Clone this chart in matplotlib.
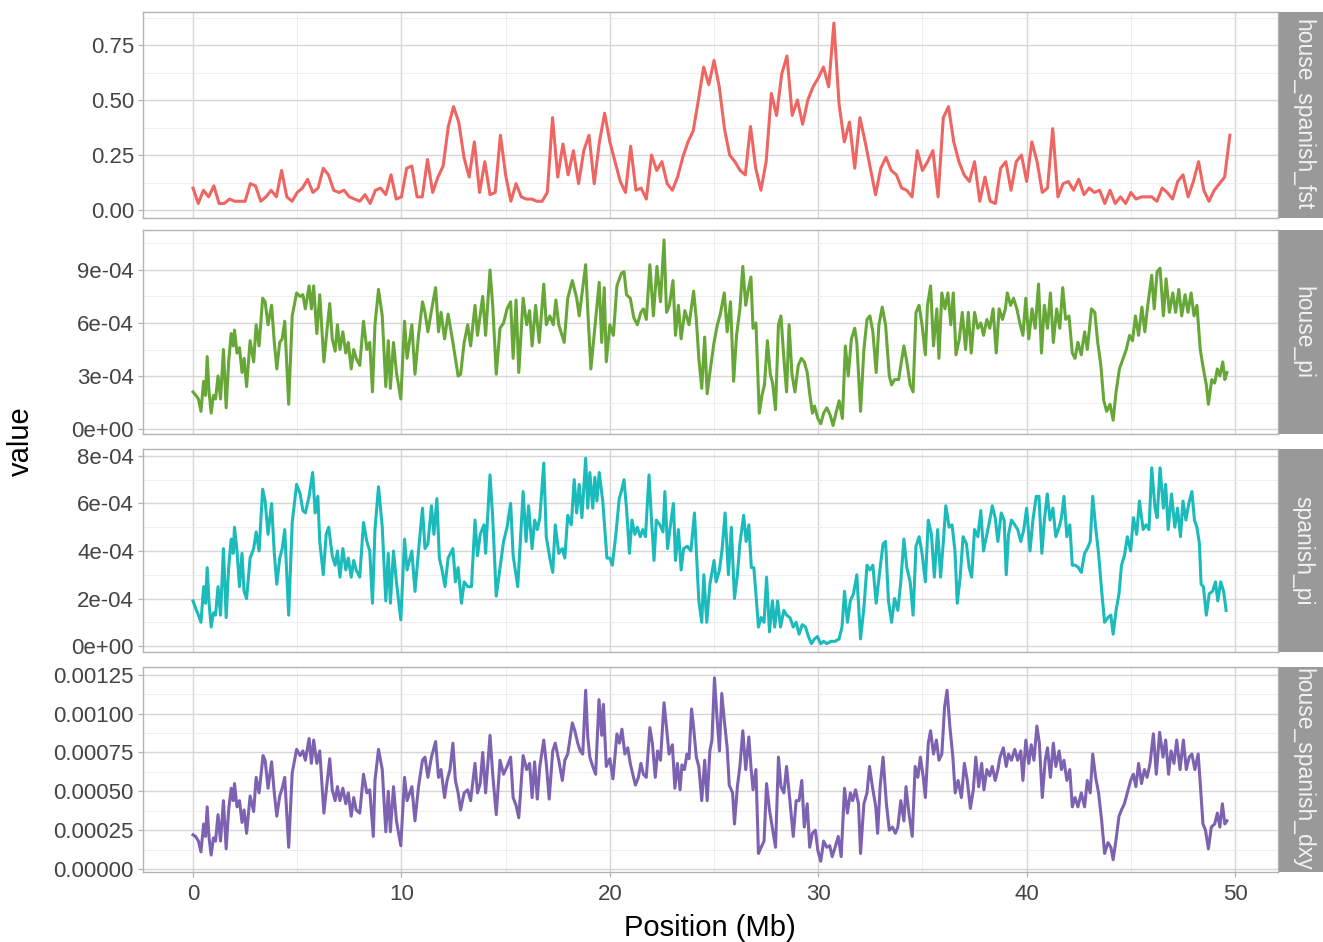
import numpy as np
import matplotlib.pyplot as plt

plt.rcParams["font.family"] = ["Liberation Sans", "DejaVu Sans"]

# --- window positions (Mb) and statistics per facet ---
fst_pos = np.arange(0, 50, 0.25)
house_spanish_fst = [
    0.10, 0.03, 0.09, 0.06, 0.11, 0.03, 0.03, 0.05, 0.04, 0.04, 0.04, 0.12, 0.11, 0.04, 0.06, 0.09, 0.06, 0.18, 0.06, 0.04,
    0.08, 0.10, 0.14, 0.08, 0.10, 0.19, 0.16, 0.09, 0.08, 0.09, 0.06, 0.05, 0.04, 0.07, 0.03, 0.09, 0.10, 0.07, 0.16, 0.05,
    0.06, 0.19, 0.20, 0.06, 0.06, 0.23, 0.08, 0.15, 0.20, 0.38, 0.47, 0.40, 0.24, 0.15, 0.31, 0.08, 0.22, 0.07, 0.08, 0.34,
    0.16, 0.04, 0.12, 0.06, 0.05, 0.05, 0.04, 0.04, 0.08, 0.42, 0.15, 0.30, 0.16, 0.27, 0.12, 0.27, 0.34, 0.12, 0.31, 0.44,
    0.31, 0.22, 0.13, 0.08, 0.29, 0.09, 0.10, 0.05, 0.25, 0.18, 0.22, 0.12, 0.09, 0.15, 0.24, 0.31, 0.36, 0.50, 0.65, 0.57,
    0.68, 0.56, 0.37, 0.25, 0.22, 0.18, 0.16, 0.38, 0.19, 0.09, 0.22, 0.53, 0.43, 0.62, 0.70, 0.43, 0.50, 0.39, 0.50, 0.56,
    0.60, 0.65, 0.56, 0.85, 0.48, 0.31, 0.40, 0.19, 0.42, 0.31, 0.19, 0.07, 0.19, 0.24, 0.18, 0.16, 0.10, 0.09, 0.06, 0.27,
    0.18, 0.22, 0.27, 0.06, 0.42, 0.47, 0.31, 0.22, 0.16, 0.13, 0.22, 0.04, 0.15, 0.04, 0.03, 0.19, 0.22, 0.09, 0.22, 0.25,
    0.13, 0.31, 0.22, 0.08, 0.10, 0.37, 0.06, 0.12, 0.13, 0.09, 0.14, 0.07, 0.10, 0.08, 0.09, 0.03, 0.09, 0.03, 0.06, 0.03,
    0.08, 0.05, 0.06, 0.06, 0.06, 0.04, 0.10, 0.08, 0.05, 0.13, 0.16, 0.06, 0.13, 0.22, 0.09, 0.04, 0.09, 0.12, 0.15, 0.34,
]

# pi and dxy values below are in units of 1e-4
house_pi_pos = [
    0.00, 0.14, 0.26, 0.38, 0.51, 0.60, 0.68, 0.77, 0.87, 0.98, 1.08, 1.20, 1.32, 1.46, 1.59, 1.71, 1.83, 1.93, 1.99, 2.11,
    2.23, 2.35, 2.45, 2.57, 2.74, 2.91, 3.03, 3.17, 3.34, 3.46, 3.60, 3.77, 3.90, 4.02, 4.16, 4.28, 4.40, 4.59, 4.76, 4.97,
    5.14, 5.27, 5.39, 5.57, 5.68, 5.79, 5.94, 6.08, 6.28, 6.42, 6.56, 6.68, 6.82, 6.93, 7.05, 7.19, 7.33, 7.45, 7.59, 7.71,
    7.83, 8.00, 8.18, 8.34, 8.48, 8.61, 8.73, 8.90, 9.08, 9.25, 9.37, 9.47, 9.62, 9.76, 9.97, 10.15, 10.27, 10.50, 10.65, 10.82,
    11.01, 11.13, 11.27, 11.44, 11.64, 11.78, 11.90, 12.07, 12.24, 12.47, 12.72, 12.84, 13.01, 13.18, 13.32, 13.53, 13.65, 13.90, 14.04, 14.25,
    14.38, 14.55, 14.73, 14.90, 15.07, 15.24, 15.36, 15.50, 15.63, 15.84, 16.01, 16.15, 16.27, 16.44, 16.61, 16.83, 16.95, 17.12, 17.29, 17.41,
    17.55, 17.81, 17.98, 18.20, 18.41, 18.53, 18.66, 18.84, 18.92, 19.09, 19.26, 19.49, 19.61, 19.73, 19.83, 20.00, 20.17, 20.34, 20.55, 20.68,
    20.80, 20.98, 21.15, 21.32, 21.49, 21.61, 21.75, 21.92, 22.09, 22.26, 22.43, 22.60, 22.72, 22.86, 23.03, 23.15, 23.29, 23.42, 23.60, 23.80,
    24.02, 24.15, 24.27, 24.41, 24.55, 24.67, 24.80, 25.00, 25.16, 25.30, 25.49, 25.63, 25.79, 25.94, 26.08, 26.24, 26.38, 26.52, 26.63, 26.77,
    26.87, 27.01, 27.17, 27.30, 27.42, 27.56, 27.70, 27.81, 27.95, 28.09, 28.21, 28.35, 28.48, 28.60, 28.74, 28.88, 29.04, 29.19, 29.33, 29.47,
    29.59, 29.72, 29.82, 29.98, 30.12, 30.26, 30.41, 30.57, 30.71, 30.85, 31.00, 31.16, 31.30, 31.44, 31.59, 31.75, 31.85, 32.03, 32.19, 32.34,
    32.48, 32.62, 32.78, 32.91, 33.07, 33.23, 33.41, 33.52, 33.66, 33.86, 33.96, 34.11, 34.25, 34.41, 34.55, 34.69, 34.84, 34.98, 35.14, 35.24,
    35.39, 35.53, 35.69, 35.79, 35.93, 36.08, 36.22, 36.36, 36.48, 36.61, 36.77, 36.91, 37.07, 37.20, 37.34, 37.50, 37.66, 37.80, 37.93, 38.09,
    38.23, 38.39, 38.54, 38.68, 38.84, 38.98, 39.07, 39.23, 39.37, 39.53, 39.67, 39.82, 39.96, 40.10, 40.26, 40.41, 40.57, 40.71, 40.85, 41.00,
    41.14, 41.28, 41.44, 41.59, 41.73, 41.87, 42.03, 42.19, 42.32, 42.46, 42.62, 42.78, 42.91, 43.11, 43.27, 43.41, 43.56, 43.70, 43.84, 44.00,
    44.15, 44.29, 44.45, 44.63, 44.78, 44.94, 45.08, 45.22, 45.37, 45.53, 45.67, 45.81, 46.00, 46.12, 46.26, 46.40, 46.56, 46.69, 46.85, 47.01,
    47.15, 47.30, 47.44, 47.60, 47.74, 47.89, 48.03, 48.17, 48.33, 48.48, 48.62, 48.72, 48.88, 49.02, 49.15, 49.27, 49.41, 49.51, 49.61,
]
house_pi = [
    2.1, 1.9, 1.7, 1.0, 2.7, 1.9, 4.1, 2.1, 0.9, 1.9, 1.7, 3.0, 1.7, 4.5, 1.2, 3.8, 5.4, 4.7, 5.6, 4.3,
    4.6, 3.2, 4.0, 2.4, 5.0, 3.8, 5.9, 4.7, 7.4, 7.2, 5.9, 7.0, 4.9, 3.4, 4.9, 5.1, 6.1, 1.4, 6.4, 7.7,
    7.5, 7.6, 6.8, 8.1, 6.8, 8.1, 5.4, 7.6, 3.8, 5.5, 7.1, 5.1, 4.4, 5.9, 4.5, 5.5, 4.3, 4.9, 3.4, 4.5,
    4.0, 3.6, 6.1, 4.5, 4.9, 2.1, 5.9, 7.9, 6.4, 2.4, 5.0, 2.3, 4.9, 3.2, 1.7, 6.1, 4.0, 5.9, 3.1, 5.3,
    7.2, 6.6, 5.5, 6.7, 8.0, 5.5, 6.6, 5.1, 6.5, 4.9, 3.0, 3.1, 4.9, 5.9, 4.7, 7.0, 5.3, 7.5, 5.3, 9.0,
    7.0, 3.1, 5.7, 6.0, 6.8, 7.2, 4.0, 7.3, 3.2, 7.4, 5.9, 6.7, 4.7, 7.0, 4.9, 8.2, 5.9, 6.4, 5.9, 7.3,
    5.9, 4.9, 7.4, 8.4, 7.4, 6.4, 7.6, 9.3, 7.2, 3.4, 5.5, 8.3, 4.9, 8.0, 3.8, 5.9, 5.3, 8.1, 8.8, 8.9,
    7.6, 7.4, 6.3, 5.9, 6.6, 6.8, 6.2, 9.3, 6.4, 9.2, 7.2, 10.7, 6.6, 7.0, 8.4, 5.3, 7.0, 5.1, 6.7, 5.9,
    7.8, 6.2, 4.0, 2.3, 5.2, 2.0, 3.2, 4.9, 5.9, 6.5, 7.7, 5.5, 7.2, 2.7, 5.3, 6.8, 9.2, 7.0, 7.8, 8.6,
    5.7, 6.0, 0.9, 1.9, 2.5, 5.0, 3.1, 2.6, 1.1, 5.9, 6.4, 4.0, 2.1, 5.9, 3.1, 2.1, 3.6, 4.0, 3.8, 3.2,
    2.0, 0.9, 1.3, 0.6, 0.3, 0.9, 1.2, 0.8, 0.2, 0.9, 1.6, 0.6, 4.7, 3.0, 5.1, 5.7, 4.9, 1.0, 4.5, 6.2,
    6.4, 5.5, 3.2, 5.9, 6.9, 5.9, 3.0, 2.5, 2.8, 2.8, 3.6, 4.7, 3.8, 2.5, 2.1, 6.6, 7.0, 5.9, 4.2, 7.0,
    8.1, 4.7, 6.8, 4.0, 7.7, 6.8, 7.7, 5.9, 7.7, 4.2, 5.1, 6.6, 4.5, 6.6, 4.3, 6.6, 5.7, 6.0, 5.3, 6.2,
    5.7, 6.8, 4.3, 6.8, 6.2, 6.8, 7.7, 7.0, 7.4, 6.8, 6.0, 5.3, 7.4, 5.1, 6.8, 5.7, 8.2, 4.3, 7.0, 5.7,
    7.7, 4.9, 6.8, 5.7, 8.0, 6.2, 6.4, 4.3, 4.0, 4.9, 4.2, 5.5, 4.5, 6.8, 6.6, 4.9, 3.6, 1.6, 1.0, 1.4,
    0.5, 2.1, 3.4, 4.0, 4.5, 5.3, 5.0, 6.4, 5.3, 6.9, 5.5, 7.0, 8.7, 6.8, 8.9, 9.1, 6.4, 8.5, 6.6, 7.7,
    6.6, 7.9, 6.4, 7.6, 6.6, 7.7, 6.4, 7.0, 4.5, 3.4, 2.5, 1.4, 2.8, 2.6, 3.4, 3.0, 3.8, 2.8, 3.2,
]

spanish_pi_pos = [
    0.00, 0.12, 0.26, 0.38, 0.51, 0.60, 0.68, 0.77, 0.87, 0.98, 1.08, 1.20, 1.32, 1.46, 1.59, 1.71, 1.83, 1.93, 1.99, 2.11,
    2.23, 2.35, 2.45, 2.57, 2.74, 2.91, 3.03, 3.17, 3.34, 3.46, 3.60, 3.77, 3.90, 4.02, 4.16, 4.28, 4.40, 4.59, 4.76, 4.97,
    5.14, 5.27, 5.39, 5.57, 5.74, 5.86, 5.99, 6.08, 6.25, 6.39, 6.51, 6.68, 6.82, 6.93, 7.05, 7.19, 7.33, 7.45, 7.59, 7.71,
    7.83, 8.00, 8.18, 8.34, 8.48, 8.61, 8.73, 8.90, 9.08, 9.25, 9.37, 9.47, 9.62, 9.76, 9.97, 10.15, 10.27, 10.50, 10.65, 10.82,
    11.01, 11.13, 11.27, 11.44, 11.56, 11.70, 11.82, 11.95, 12.09, 12.24, 12.47, 12.59, 12.72, 12.88, 13.01, 13.18, 13.36, 13.53, 13.65, 13.78,
    13.96, 14.04, 14.25, 14.38, 14.55, 14.73, 14.90, 15.07, 15.24, 15.36, 15.58, 15.70, 15.84, 15.98, 16.10, 16.27, 16.39, 16.52, 16.64, 16.83,
    16.95, 17.12, 17.26, 17.38, 17.55, 17.72, 17.84, 17.98, 18.15, 18.29, 18.41, 18.53, 18.66, 18.84, 18.94, 19.04, 19.18, 19.28, 19.38, 19.49,
    19.66, 19.86, 20.00, 20.12, 20.29, 20.45, 20.55, 20.68, 20.80, 20.94, 21.06, 21.20, 21.32, 21.46, 21.58, 21.71, 21.88, 22.00, 22.12, 22.23,
    22.40, 22.55, 22.64, 22.77, 22.91, 23.05, 23.15, 23.29, 23.42, 23.54, 23.72, 23.89, 24.06, 24.15, 24.27, 24.41, 24.51, 24.65, 24.80, 25.00,
    25.10, 25.26, 25.39, 25.53, 25.69, 25.83, 25.98, 26.12, 26.24, 26.42, 26.54, 26.67, 26.79, 26.91, 27.01, 27.13, 27.26, 27.40, 27.52, 27.66,
    27.80, 27.91, 28.05, 28.19, 28.35, 28.48, 28.64, 28.80, 28.94, 29.08, 29.23, 29.39, 29.53, 29.67, 29.82, 29.96, 30.12, 30.26, 30.41, 30.61,
    30.81, 31.00, 31.14, 31.26, 31.40, 31.54, 31.69, 31.85, 32.03, 32.19, 32.34, 32.48, 32.62, 32.78, 32.93, 33.11, 33.23, 33.37, 33.52, 33.66,
    33.82, 33.96, 34.11, 34.25, 34.41, 34.55, 34.69, 34.84, 34.98, 35.14, 35.28, 35.43, 35.57, 35.73, 35.87, 36.02, 36.12, 36.28, 36.42, 36.56,
    36.67, 36.81, 36.95, 37.11, 37.24, 37.36, 37.50, 37.66, 37.80, 37.93, 38.09, 38.23, 38.35, 38.49, 38.62, 38.78, 38.92, 39.02, 39.13, 39.27,
    39.43, 39.57, 39.72, 39.86, 40.00, 40.16, 40.30, 40.46, 40.59, 40.73, 40.85, 40.99, 41.12, 41.26, 41.40, 41.56, 41.67, 41.79, 41.93, 42.07,
    42.19, 42.34, 42.48, 42.62, 42.78, 42.91, 43.05, 43.17, 43.31, 43.45, 43.60, 43.74, 43.90, 44.04, 44.15, 44.29, 44.43, 44.55, 44.69, 44.83,
    44.99, 45.12, 45.28, 45.41, 45.59, 45.73, 45.87, 46.00, 46.16, 46.26, 46.40, 46.56, 46.67, 46.79, 46.95, 47.11, 47.24, 47.38, 47.50, 47.64,
    47.78, 47.93, 48.05, 48.17, 48.29, 48.37, 48.48, 48.62, 48.76, 48.92, 49.06, 49.17, 49.31, 49.45, 49.57,
]
spanish_pi = [
    1.9, 1.6, 1.3, 1.0, 2.5, 1.8, 3.3, 1.8, 0.8, 1.4, 1.3, 2.5, 1.3, 4.1, 1.2, 3.3, 4.5, 3.9, 5.0, 4.0,
    2.5, 3.9, 2.3, 2.0, 3.7, 4.1, 4.8, 4.0, 6.6, 6.1, 4.7, 6.0, 3.9, 2.6, 3.7, 4.1, 4.9, 1.3, 5.2, 6.8,
    6.4, 5.7, 5.6, 6.3, 7.3, 5.6, 6.3, 4.4, 3.0, 4.7, 5.0, 3.8, 3.4, 4.0, 2.9, 4.1, 3.2, 3.7, 2.9, 3.6,
    3.2, 2.9, 5.2, 4.4, 4.0, 1.8, 4.9, 6.7, 5.0, 1.9, 3.9, 1.8, 4.0, 2.7, 1.1, 4.5, 3.2, 4.0, 2.3, 4.0,
    5.8, 4.1, 4.3, 5.9, 4.7, 6.2, 3.7, 3.2, 2.5, 3.7, 4.1, 2.7, 3.3, 1.8, 2.7, 2.5, 2.5, 5.3, 3.8, 4.7,
    5.1, 3.9, 7.2, 5.4, 2.1, 3.3, 4.4, 5.0, 6.0, 3.8, 2.5, 4.3, 6.5, 4.4, 5.9, 4.1, 5.3, 4.9, 5.4, 7.7,
    4.6, 3.7, 3.1, 5.1, 3.9, 4.1, 3.7, 5.5, 5.1, 7.0, 5.6, 6.8, 5.4, 7.9, 5.8, 7.3, 5.8, 7.1, 6.1, 7.3,
    6.1, 3.7, 3.7, 3.4, 4.7, 6.2, 6.5, 7.0, 5.8, 3.9, 5.3, 4.7, 5.0, 4.6, 4.9, 4.6, 7.2, 5.3, 3.6, 5.3,
    5.1, 4.8, 6.5, 4.1, 5.1, 6.0, 3.6, 4.9, 3.2, 4.1, 4.2, 4.0, 5.6, 4.0, 1.9, 1.0, 3.0, 1.0, 2.6, 3.6,
    2.7, 3.2, 4.1, 5.6, 3.0, 5.0, 2.0, 3.0, 4.3, 5.5, 4.4, 5.1, 3.3, 3.3, 2.2, 0.8, 1.2, 1.0, 2.9, 0.6,
    1.9, 0.8, 1.9, 0.8, 1.5, 1.3, 1.2, 0.8, 1.0, 0.5, 0.9, 0.8, 0.4, 0.1, 0.3, 0.4, 0.1, 0.2, 0.1, 0.2,
    0.2, 0.3, 0.8, 2.3, 1.0, 1.9, 2.2, 3.0, 0.3, 1.6, 3.4, 3.2, 3.4, 1.8, 3.0, 4.3, 4.4, 1.9, 1.0, 2.0,
    1.5, 2.7, 4.5, 3.3, 2.7, 1.3, 4.2, 4.6, 3.9, 2.7, 5.3, 4.7, 2.9, 4.9, 2.9, 4.6, 5.9, 5.0, 5.1, 4.0,
    1.8, 2.9, 4.6, 4.3, 3.3, 2.9, 4.9, 4.6, 5.7, 4.0, 4.7, 5.3, 5.9, 5.4, 4.4, 5.6, 5.3, 3.0, 4.7, 5.3,
    5.1, 4.9, 4.4, 4.9, 5.8, 4.0, 5.3, 6.3, 6.3, 3.9, 5.3, 6.4, 5.3, 5.8, 4.6, 5.0, 5.4, 6.3, 4.6, 5.1,
    3.4, 3.4, 3.3, 3.1, 3.9, 4.1, 4.4, 6.3, 5.0, 3.9, 2.3, 1.0, 1.2, 1.3, 0.5, 1.5, 2.2, 3.4, 3.8, 4.6,
    4.0, 5.4, 4.7, 6.1, 4.9, 5.1, 4.9, 7.5, 5.8, 5.4, 7.5, 5.8, 6.8, 4.9, 6.4, 5.0, 5.8, 4.6, 6.1, 5.3,
    6.0, 6.5, 5.3, 5.0, 4.3, 2.6, 2.5, 1.3, 2.2, 2.3, 2.7, 1.9, 2.7, 2.3, 1.5,
]

dxy_pos = [
    0.00, 0.12, 0.26, 0.38, 0.51, 0.60, 0.68, 0.77, 0.87, 0.98, 1.08, 1.20, 1.32, 1.46, 1.59, 1.71, 1.83, 1.93, 1.99, 2.11,
    2.23, 2.35, 2.45, 2.57, 2.74, 2.91, 3.03, 3.17, 3.36, 3.46, 3.60, 3.77, 3.90, 4.02, 4.16, 4.28, 4.40, 4.59, 4.76, 4.97,
    5.14, 5.27, 5.39, 5.57, 5.68, 5.79, 5.94, 6.08, 6.28, 6.42, 6.56, 6.68, 6.82, 6.93, 7.05, 7.19, 7.33, 7.45, 7.59, 7.71,
    7.83, 8.00, 8.18, 8.34, 8.48, 8.65, 8.73, 8.90, 9.08, 9.25, 9.37, 9.47, 9.62, 9.76, 9.97, 10.15, 10.27, 10.50, 10.65, 10.82,
    11.01, 11.13, 11.27, 11.44, 11.64, 11.78, 11.90, 12.07, 12.19, 12.33, 12.47, 12.59, 12.72, 12.84, 13.01, 13.18, 13.32, 13.53, 13.65, 13.78,
    13.90, 14.04, 14.25, 14.38, 14.55, 14.73, 14.90, 15.07, 15.24, 15.36, 15.50, 15.63, 15.84, 16.01, 16.15, 16.27, 16.39, 16.52, 16.64, 16.83,
    16.95, 17.09, 17.26, 17.38, 17.55, 17.72, 17.84, 17.98, 18.20, 18.32, 18.46, 18.58, 18.70, 18.84, 18.94, 19.04, 19.18, 19.32, 19.48, 19.61,
    19.69, 19.83, 20.00, 20.15, 20.34, 20.46, 20.58, 20.72, 20.86, 20.98, 21.10, 21.23, 21.37, 21.49, 21.61, 21.75, 21.92, 22.04, 22.18, 22.29,
    22.43, 22.60, 22.72, 22.84, 23.00, 23.12, 23.24, 23.37, 23.46, 23.58, 23.70, 23.80, 23.92, 24.02, 24.15, 24.27, 24.41, 24.55, 24.67, 24.80,
    24.90, 25.02, 25.14, 25.26, 25.37, 25.49, 25.63, 25.73, 25.89, 25.98, 26.12, 26.24, 26.38, 26.52, 26.67, 26.77, 26.87, 27.01, 27.13, 27.26,
    27.40, 27.52, 27.66, 27.82, 27.95, 28.09, 28.21, 28.35, 28.48, 28.64, 28.80, 28.94, 29.08, 29.21, 29.33, 29.47, 29.59, 29.72, 29.86, 29.98,
    30.12, 30.26, 30.41, 30.55, 30.67, 30.81, 30.96, 31.10, 31.26, 31.40, 31.54, 31.65, 31.79, 31.93, 32.03, 32.19, 32.34, 32.46, 32.60, 32.76,
    32.85, 32.97, 33.11, 33.27, 33.41, 33.56, 33.70, 33.82, 33.96, 34.11, 34.21, 34.35, 34.51, 34.65, 34.78, 34.90, 35.04, 35.14, 35.28, 35.39,
    35.53, 35.67, 35.79, 35.93, 36.06, 36.18, 36.32, 36.46, 36.57, 36.71, 36.87, 37.01, 37.15, 37.30, 37.44, 37.56, 37.70, 37.84, 37.95, 38.09,
    38.23, 38.35, 38.49, 38.62, 38.72, 38.88, 39.02, 39.13, 39.27, 39.43, 39.57, 39.72, 39.82, 39.96, 40.10, 40.22, 40.35, 40.49, 40.61, 40.75,
    40.89, 41.00, 41.14, 41.28, 41.40, 41.56, 41.67, 41.79, 41.93, 42.07, 42.19, 42.32, 42.46, 42.62, 42.78, 42.91, 43.05, 43.17, 43.31, 43.45,
    43.60, 43.74, 43.90, 44.04, 44.15, 44.29, 44.43, 44.55, 44.69, 44.83, 44.99, 45.12, 45.24, 45.37, 45.51, 45.65, 45.78, 45.92, 46.08, 46.22,
    46.38, 46.54, 46.67, 46.81, 46.93, 47.07, 47.20, 47.36, 47.52, 47.66, 47.80, 47.93, 48.07, 48.23, 48.33, 48.46, 48.58, 48.72, 48.86, 49.02,
    49.15, 49.27, 49.39, 49.51, 49.61,
]
house_spanish_dxy = [
    2.2, 2.1, 1.8, 1.1, 2.9, 2.1, 4.0, 2.0, 0.9, 2.0, 1.8, 3.5, 1.8, 4.4, 1.3, 3.8, 5.2, 4.4, 5.5, 4.0,
    4.4, 3.0, 3.8, 2.3, 4.7, 3.7, 5.9, 4.9, 7.3, 7.0, 5.2, 6.9, 4.9, 3.4, 4.7, 5.2, 5.9, 1.4, 6.2, 7.7,
    7.3, 7.6, 7.0, 8.4, 6.8, 8.3, 6.8, 7.6, 3.6, 5.4, 7.1, 5.1, 4.4, 5.3, 4.4, 5.2, 4.2, 4.9, 3.4, 4.6,
    3.8, 3.6, 6.1, 4.9, 5.1, 2.1, 5.7, 7.7, 6.4, 2.4, 5.0, 2.4, 5.3, 3.1, 1.5, 5.9, 4.4, 5.3, 3.1, 5.3,
    7.0, 7.2, 5.9, 7.2, 8.2, 5.9, 6.4, 4.6, 5.7, 6.4, 8.1, 5.7, 4.9, 3.8, 4.9, 5.1, 4.4, 6.8, 4.9, 5.5,
    7.5, 4.9, 8.6, 6.1, 3.5, 7.0, 6.1, 6.6, 7.2, 4.6, 4.1, 3.3, 7.3, 6.4, 6.8, 4.6, 6.9, 4.5, 6.6, 8.3,
    6.8, 4.5, 7.6, 8.1, 7.0, 5.7, 7.0, 7.4, 9.4, 8.9, 8.1, 7.6, 7.4, 11.5, 8.5, 7.2, 6.6, 6.1, 10.9, 8.6,
    10.6, 6.6, 7.1, 5.8, 8.7, 8.1, 9.0, 7.4, 7.8, 6.8, 6.1, 5.4, 5.9, 6.8, 6.1, 5.9, 9.1, 8.1, 5.9, 7.6,
    7.0, 10.7, 9.1, 7.4, 8.0, 5.2, 6.8, 5.1, 6.7, 6.4, 7.4, 7.1, 10.3, 9.1, 7.2, 6.6, 4.4, 7.0, 4.4, 7.6,
    8.3, 12.3, 9.8, 7.6, 11.3, 9.6, 7.8, 5.4, 4.9, 2.9, 5.3, 6.6, 8.9, 6.4, 8.5, 6.6, 5.1, 6.4, 1.0, 1.4,
    1.8, 5.5, 3.8, 2.5, 1.4, 7.2, 5.3, 4.9, 6.6, 4.4, 2.1, 4.4, 4.4, 5.7, 2.7, 4.2, 1.4, 2.3, 2.5, 1.2,
    0.5, 1.8, 1.4, 1.5, 0.8, 1.4, 2.1, 0.8, 5.2, 3.6, 4.9, 4.4, 5.1, 4.2, 1.0, 4.2, 4.9, 6.6, 5.3, 4.0,
    2.3, 5.3, 7.2, 4.2, 2.5, 2.7, 2.3, 2.7, 4.4, 3.1, 5.3, 3.6, 2.1, 6.6, 5.9, 7.2, 5.9, 4.6, 8.1, 8.9,
    7.4, 8.3, 7.0, 7.4, 10.4, 11.5, 9.1, 7.2, 4.9, 5.7, 4.6, 6.8, 5.7, 3.9, 5.1, 7.2, 5.3, 6.8, 5.1, 6.4,
    6.0, 6.6, 5.7, 6.4, 7.2, 7.8, 6.6, 7.4, 7.0, 7.7, 7.0, 7.6, 5.7, 8.3, 6.8, 8.0, 7.0, 9.2, 8.1, 4.6,
    7.0, 7.8, 5.9, 8.1, 6.6, 7.6, 6.4, 7.0, 5.7, 6.4, 4.0, 4.6, 4.0, 4.9, 4.0, 5.7, 4.9, 7.4, 5.9, 4.9,
    3.1, 1.0, 1.7, 1.4, 0.6, 1.9, 3.4, 3.8, 4.2, 4.9, 5.7, 6.1, 5.3, 6.8, 5.5, 6.4, 5.9, 6.8, 8.7, 6.1,
    8.8, 7.2, 8.3, 6.1, 7.6, 6.8, 8.3, 6.4, 8.3, 6.4, 7.2, 7.4, 6.4, 7.4, 5.5, 2.9, 2.5, 1.3, 2.7, 2.9,
    3.6, 2.7, 4.2, 2.9, 3.1,
]

facet_names = ["house_spanish_fst", "house_pi", "spanish_pi", "house_spanish_dxy"]
line_colors = ["#EF6561", "#66A737", "#1BBABB", "#7D62B1"]

y_major = [
    [0.0, 0.25, 0.50, 0.75],
    [0.0, 3e-4, 6e-4, 9e-4],
    [0.0, 2e-4, 4e-4, 6e-4, 8e-4],
    [0.0, 0.00025, 0.0005, 0.00075, 0.001, 0.00125],
]
y_labels = [
    ["0.00", "0.25", "0.50", "0.75"],
    ["0e+00", "3e-04", "6e-04", "9e-04"],
    ["0e+00", "2e-04", "4e-04", "6e-04", "8e-04"],
    ["0.00000", "0.00025", "0.00050", "0.00075", "0.00100", "0.00125"],
]
y_limits = [(-0.036, 0.90), (-0.28e-4, 11.26e-4), (-0.25e-4, 8.29e-4), (-0.19e-4, 13.0e-4)]

series = [
    (fst_pos, np.array(house_spanish_fst)),
    (np.array(house_pi_pos), np.array(house_pi) * 1e-4),
    (np.array(spanish_pi_pos), np.array(spanish_pi) * 1e-4),
    (np.array(dxy_pos), np.array(house_spanish_dxy) * 1e-4),
]

W, H = 1323, 942
fig = plt.figure(figsize=(W / 100, H / 100), dpi=100)

panel_px = [(12, 218), (230, 434), (449, 652), (667, 872)]
left_px, right_px = 143, 1278
x_major = [0, 10, 20, 30, 40, 50]
x_minor = [5, 15, 25, 35, 45]

border = "#b3b3b3"
for i, (top, bottom) in enumerate(panel_px):
    ax = fig.add_axes([left_px / W, 1 - bottom / H, (right_px - left_px) / W, (bottom - top) / H])
    x, y = series[i]
    ax.plot(x, y, color=line_colors[i], lw=2.2, solid_joinstyle="round", zorder=3)
    ax.set_xlim(-2.4, 52.06)
    ax.set_ylim(*y_limits[i])

    ymaj = y_major[i]
    step = ymaj[1] - ymaj[0]
    ymin = [v + step / 2 for v in ymaj]
    ax.set_yticks(ymaj)
    ax.set_yticklabels(y_labels[i])
    ax.set_yticks([v for v in ymin if v < y_limits[i][1]], minor=True)
    ax.set_xticks(x_major)
    ax.set_xticks(x_minor, minor=True)

    ax.grid(True, which="major", color="#d6d6d6", lw=1.0, zorder=0)
    ax.grid(True, which="minor", color="#ebebeb", lw=0.6, zorder=0)
    ax.set_axisbelow(True)
    for sp in ax.spines.values():
        sp.set_color(border)
        sp.set_linewidth(1.0)

    ax.tick_params(axis="y", which="major", length=3.5, width=0.9, color=border,
                   labelsize=16, labelcolor="#444444", pad=3)
    ax.tick_params(axis="y", which="minor", length=0)
    ax.tick_params(axis="x", which="minor", length=0)
    if i == 3:
        ax.tick_params(axis="x", which="major", length=3.5, width=0.9, color=border,
                       labelsize=16, labelcolor="#444444", pad=5)
    else:
        ax.tick_params(axis="x", which="major", length=0, labelbottom=False)

    # facet strip on the right
    sax = fig.add_axes([1279 / W, 1 - bottom / H, 50 / W, (bottom - top) / H])
    sax.set_facecolor("#999999")
    sax.set_xlim(0, 1)
    sax.set_ylim(0, 1)
    sax.set_xticks([])
    sax.set_yticks([])
    for sp in sax.spines.values():
        sp.set_visible(False)
    sax.text(0.47, 0.5, facet_names[i], rotation=-90, ha="center", va="center",
             fontsize=16.5, color="#f2f2f2", clip_on=True, transform=sax.transAxes)

fig.text(710 / W, 1 - 928 / H, "Position (Mb)", ha="center", va="center", fontsize=21, color="black")
fig.text(21 / W, 1 - 441 / H, "value", ha="center", va="center", rotation=90, fontsize=21, color="black")

fig.savefig("out.png", dpi=100, facecolor="white")
